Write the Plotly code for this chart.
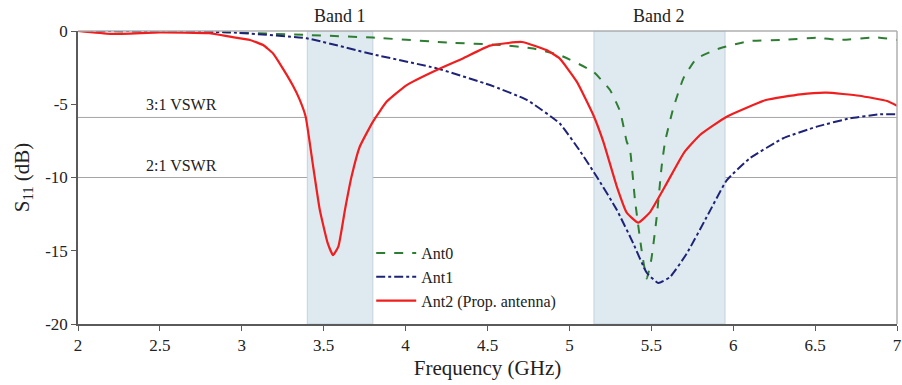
import plotly.graph_objects as go

# Data
freq0 = [2.0, 2.5, 2.93, 3.4, 3.8, 4.27, 4.58, 4.78, 4.94, 5.146, 5.248, 5.31, 5.35, 5.37, 5.40, 5.44, 5.472, 5.50, 5.533, 5.563, 5.584, 5.634, 5.696, 5.777, 5.92, 6.10, 6.306, 6.51, 6.65, 6.876, 7.0]
s11_0 = [0.0, -0.05, -0.1, -0.27, -0.45, -0.8, -0.95, -1.2, -1.64, -2.78, -4.03, -5.5, -7.55, -8.12, -11.5, -14.9, -16.9, -15.6, -12.7, -9.26, -7.55, -5.28, -3.23, -1.87, -1.18, -0.68, -0.61, -0.46, -0.61, -0.43, -0.61]

freq1 = [2.0, 2.5, 2.93, 3.396, 3.80, 4.19, 4.515, 4.74, 4.94, 5.065, 5.17, 5.289, 5.39, 5.472, 5.543, 5.614, 5.716, 5.838, 5.96, 6.10, 6.306, 6.51, 6.713, 6.896, 7.0]
s11_1 = [0.0, 0.0, -0.09, -0.5, -1.59, -2.55, -3.69, -4.7, -6.3, -8.2, -10.0, -12.2, -14.5, -16.5, -17.2, -16.8, -15.2, -12.7, -10.2, -8.7, -7.32, -6.53, -5.96, -5.69, -5.69]

freq2 = [2.0, 2.2, 2.5, 2.8, 2.928, 3.05, 3.13, 3.19, 3.25, 3.31, 3.35, 3.39, 3.435, 3.476, 3.525, 3.557, 3.59, 3.63, 3.67, 3.72, 3.80, 3.885, 4.007, 4.19, 4.35, 4.515, 4.71, 4.86, 4.94, 5.045, 5.146, 5.207, 5.289, 5.35, 5.42, 5.49, 5.594, 5.70, 5.797, 5.96, 6.20, 6.41, 6.57, 6.77, 6.94, 7.0]
s11_2 = [0.0, -0.2, -0.1, -0.15, -0.39, -0.61, -0.96, -1.52, -2.55, -3.69, -4.6, -5.85, -9.2, -12.2, -14.5, -15.3, -14.7, -12.2, -9.94, -7.9, -6.2, -4.82, -3.69, -2.66, -1.87, -1.0, -0.75, -1.3, -1.87, -3.46, -5.73, -7.55, -10.6, -12.4, -13.08, -12.4, -10.4, -8.3, -7.1, -5.85, -4.71, -4.32, -4.21, -4.42, -4.78, -5.1]

bands = [(3.4, 3.8, "Band 1"), (5.15, 5.95, "Band 2")]
vswr = [(-5.9, "3:1 VSWR"), (-10.0, "2:1 VSWR")]
xticks = [2, 2.5, 3, 3.5, 4, 4.5, 5, 5.5, 6, 6.5, 7]
yticks = [0, -5, -10, -15, -20]

FONT = "Liberation Serif, Tinos, Times New Roman, Times, Nimbus Roman, FreeSerif, DejaVu Serif, Noto Serif, serif"

fig = go.Figure()

shapes = []
annotations = []
for x0, x1, lab in bands:
    shapes.append(dict(type="rect", xref="x", yref="y", x0=x0, x1=x1, y0=-20, y1=0,
                       fillcolor="rgb(223,234,240)", line=dict(color="rgb(195,210,220)", width=1), layer="below"))
    annotations.append(dict(x=(x0 + x1) / 2, y=1.0, xref="x", yref="paper", yshift=3, text=lab,
                            showarrow=False, yanchor="bottom", font=dict(family=FONT, size=18, color="#222")))
for yv, lab in vswr:
    shapes.append(dict(type="line", xref="paper", yref="y", x0=0, x1=1, y0=yv, y1=yv,
                       line=dict(color="rgb(165,165,165)", width=1), layer="below"))
    annotations.append(dict(x=2.63, y=yv, xref="x", yref="y", yshift=2, text=lab,
                            showarrow=False, yanchor="bottom", font=dict(family=FONT, size=16, color="#222")))
# top and right frame
shapes.append(dict(type="line", xref="paper", yref="paper", x0=0, x1=1, y0=1, y1=1,
                   line=dict(color="rgb(175,175,175)", width=1.5)))
shapes.append(dict(type="line", xref="paper", yref="paper", x0=1, x1=1, y0=0, y1=1,
                   line=dict(color="rgb(175,175,175)", width=1.5)))

fig.add_trace(go.Scatter(x=freq0, y=s11_0, mode="lines", name="Ant0",
                         line=dict(color="rgb(46,125,50)", width=2, dash="dash", shape="spline", smoothing=0.4)))
fig.add_trace(go.Scatter(x=freq1, y=s11_1, mode="lines", name="Ant1",
                         line=dict(color="rgb(30,35,120)", width=2, dash="dashdot", shape="spline", smoothing=0.4)))
fig.add_trace(go.Scatter(x=freq2, y=s11_2, mode="lines", name="Ant2 (Prop. antenna)",
                         line=dict(color="rgb(240,30,30)", width=2.2, shape="spline", smoothing=0.4)))

fig.update_layout(
    width=902, height=385,
    margin=dict(l=78, r=5, t=31, b=61),
    paper_bgcolor="white", plot_bgcolor="white",
    font=dict(family=FONT, size=17, color="#222"),
    shapes=shapes, annotations=annotations,
    showlegend=True,
    legend=dict(x=0.358, y=0.30, xanchor="left", yanchor="top",
                bgcolor="rgba(0,0,0,0)", font=dict(family=FONT, size=16, color="#222"),
                tracegroupgap=0, itemwidth=40),
    xaxis=dict(range=[2, 7], tickvals=xticks, ticktext=[str(v) for v in xticks], automargin=False,
               showgrid=False, zeroline=False, showline=True, linecolor="rgb(90,90,90)", linewidth=1.5,
               ticks="outside", ticklen=5, tickcolor="rgb(90,90,90)",
               tickfont=dict(family=FONT, size=17),
               title=dict(text="Frequency (GHz)", font=dict(family=FONT, size=21), standoff=6)),
    yaxis=dict(range=[-20, 0], tickvals=yticks, ticktext=[str(v) for v in yticks], automargin=False,
               showgrid=False, zeroline=False, showline=True, linecolor="rgb(90,90,90)", linewidth=1.5,
               ticks="outside", ticklen=5, tickcolor="rgb(90,90,90)",
               tickfont=dict(family=FONT, size=17),
               title=dict(text="S<sub>11</sub> (dB)", font=dict(family=FONT, size=21), standoff=10)),
)

fig.write_html("out.html")
